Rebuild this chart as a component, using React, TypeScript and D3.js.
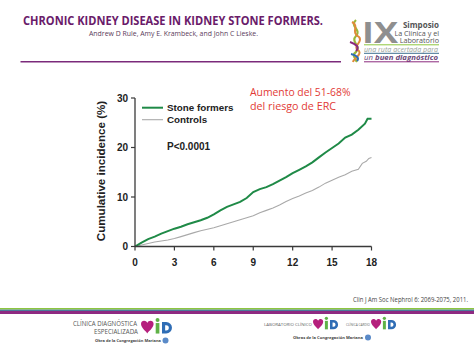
import React from 'react';
import * as d3 from 'd3';

const stoneTimes = [0, 0.5, 1, 1.5, 2, 2.5, 3, 3.5, 4, 4.5, 5, 5.5, 6, 6.5, 7, 7.5, 8, 8.5, 9, 9.5, 10, 10.5, 11, 11.5, 12, 12.5, 13, 13.5, 14, 14.5, 15, 15.5, 16, 16.5, 17, 17.5, 17.7, 18];
const stoneFormers = [0, 0.8, 1.5, 2.0, 2.6, 3.1, 3.6, 4.0, 4.5, 4.9, 5.3, 5.8, 6.5, 7.3, 8.0, 8.5, 9.0, 9.8, 11.0, 11.6, 12.0, 12.6, 13.3, 14.0, 14.8, 15.5, 16.2, 17.0, 18.0, 19.0, 19.9, 20.8, 22.0, 22.6, 23.6, 24.8, 25.8, 25.8];

const controlTimes = [0, 0.5, 1, 1.5, 2, 2.5, 3, 3.5, 4, 4.5, 5, 5.5, 6, 6.5, 7, 7.5, 8, 8.5, 9, 9.5, 10, 10.5, 11, 11.5, 12, 12.5, 13, 13.5, 14, 14.5, 15, 15.5, 16, 16.5, 17, 17.3, 17.6, 17.8, 18];
const controls = [0, 0.3, 0.6, 0.9, 1.1, 1.3, 1.6, 2.0, 2.4, 2.8, 3.2, 3.5, 3.8, 4.2, 4.6, 5.0, 5.4, 5.8, 6.2, 6.8, 7.3, 7.8, 8.4, 9.1, 9.7, 10.2, 10.8, 11.3, 12.0, 12.8, 13.4, 14.0, 14.5, 15.2, 15.6, 16.8, 17.2, 17.8, 18.0];

const xTicks = [0, 3, 6, 9, 12, 15, 18];
const yTicks = [0, 10, 20, 30];

const seriesNames = ['Stone formers', 'Controls'];

export default function App() {
  const x = d3.scaleLinear().domain([0, 18]).range([135, 371.5]);
  const y = d3.scaleLinear().domain([0, 30]).range([246.5, 98]);

  const line = d3
    .line<[number, number]>()
    .x((d) => x(d[0]))
    .y((d) => y(d[1]))
    .curve(d3.curveLinear);

  const stonePath = line(stoneTimes.map((t, i) => [t, stoneFormers[i]]) as [number, number][]) || '';
  const ctrlPath = line(controlTimes.map((t, i) => [t, controls[i]]) as [number, number][]) || '';

  const arial = 'Liberation Sans, Arial, sans-serif';
  const calibri = 'Open Sans, sans-serif';
  const green = '#1f8a47';
  const gray = '#a9a9a9';
  const axisCol = '#3a3a3a';
  const purple = '#6a1b6a';

  const vid = (px: number, py: number, s: number) => (
    <g transform={`translate(${px},${py}) scale(${s})`}>
      <path d="M0,2 C0,-2 5,-2 6,1 C7,-2 12,-2 12,2 C12,6 6,10 6,11 C6,10 0,6 0,2 Z" fill="#b5207d" />
      <rect x={14} y={1} width={3.5} height={10} fill="#5fb246" />
      <circle cx={15.75} cy={-2} r={1.9} fill="#5fb246" />
      <path d="M20,0 h4 a5.5,5.5 0 0 1 0,11 h-4 Z M23,3 v5 h1 a2.5,2.5 0 0 0 0,-5 Z" fill="#2f6db5" fillRule="evenodd" />
    </g>
  );

  return (
    <svg
      width={474}
      height={355}
      style={{ position: 'absolute', left: 0, top: 0, background: '#fff' }}
      xmlns="http://www.w3.org/2000/svg"
    >
      <rect x={0} y={0} width={474} height={355} fill="#fff" />

      {/* Header */}
      <text x={23} y={24.5} fontFamily={calibri} fontWeight={700} fontSize={12.5} fill={purple} textLength={300} lengthAdjust="spacingAndGlyphs">
        CHRONIC KIDNEY DISEASE IN KIDNEY STONE FORMERS.
      </text>
      <text x={89} y={36} fontFamily={calibri} fontSize={7.6} fill="#5a3a5a" textLength={169} lengthAdjust="spacingAndGlyphs">
        Andrew D Rule, Amy E. Krambeck, and John C Lieske.
      </text>
      <line x1={20.5} x2={341} y1={61.7} y2={61.7} stroke="#7b2a7b" strokeWidth={1.6} />

      {/* Symposium logo */}
      <g>
        <path d="M356,20 C349,26 362,30 356,36 C350,42 362,46 356,52 C350,56 358,59 356,62" stroke="#9ab83a" strokeWidth={2.2} fill="none" />
        <path d="M352,22 C360,26 350,32 359,37 C364,42 351,46 359,51 C362,55 354,58 353,62" stroke="#e08a3a" strokeWidth={2} fill="none" />
        <path d="M350,42 C356,44 360,47 356,51" stroke="#8a2a7e" strokeWidth={2} fill="none" />
        <path d="M351,54 C356,55 360,58 357,61" stroke="#2f6db5" strokeWidth={2} fill="none" />
        <text x={362} y={43.3} fontFamily={calibri} fontWeight={700} fontSize={29} fill="#8f8f8f" textLength={36} lengthAdjust="spacingAndGlyphs">
          IX
        </text>
        <text x={439} y={27.8} textAnchor="end" fontFamily={calibri} fontWeight={700} fontSize={8} fill="#555">Simposio</text>
        <text x={439} y={36.2} textAnchor="end" fontFamily={calibri} fontSize={7.2} fill="#555">La Clínica y el</text>
        <text x={439} y={43.2} textAnchor="end" fontFamily={calibri} fontSize={7.2} fill="#555">Laboratorio</text>
        <line x1={364} x2={439} y1={44.8} y2={44.8} stroke="#8dc63f" strokeWidth={1} />
        <text x={364} y={51.5} fontFamily={calibri} fontStyle="italic" fontSize={6.4} fill="#9aa39a" textLength={74} lengthAdjust="spacingAndGlyphs">una ruta acertada para</text>
        <line x1={364} x2={439} y1={53.3} y2={53.3} stroke="#3c6e8f" strokeWidth={1} />
        <text x={364} y={60} fontFamily={calibri} fontStyle="italic" fontSize={6.8} fill="#6a4a7a" textLength={74} lengthAdjust="spacingAndGlyphs">
          un <tspan fontWeight={700}>buen diagnóstico</tspan>
        </text>
        <line x1={364} x2={439} y1={61.8} y2={61.8} stroke="#8a2a7e" strokeWidth={1} />
      </g>

      {/* Chart */}
      <g>
        <path d={ctrlPath} fill="none" stroke={gray} strokeWidth={1.1} />
        <path d={stonePath} fill="none" stroke={green} strokeWidth={2} />

        {/* y axis */}
        <line x1={x(0)} x2={x(0)} y1={y(0)} y2={y(30)} stroke={axisCol} strokeWidth={1.3} />
        {yTicks.map((t) => (
          <g key={'y' + t}>
            <line x1={x(0) - 4} x2={x(0)} y1={y(t)} y2={y(t)} stroke={axisCol} strokeWidth={1.2} />
            <text x={x(0) - 7} y={y(t)} dy="0.35em" textAnchor="end" fontFamily={arial} fontWeight={700} fontSize={10} fill="#222">
              {t}
            </text>
          </g>
        ))}
        {/* x axis */}
        <line x1={x(0)} x2={x(18)} y1={y(0)} y2={y(0)} stroke={axisCol} strokeWidth={1.3} />
        {xTicks.map((t) => (
          <g key={'x' + t}>
            <line x1={x(t)} x2={x(t)} y1={y(0)} y2={y(0) + 4} stroke={axisCol} strokeWidth={1.2} />
            <text x={x(t)} y={265.5} textAnchor="middle" fontFamily={arial} fontWeight={700} fontSize={10} fill="#222">
              {t}
            </text>
          </g>
        ))}
        <text
          transform="translate(104.5,171) rotate(-90)"
          textAnchor="middle"
          fontFamily={arial}
          fontWeight={700}
          fontSize={11.6}
          fill="#222"
        >
          Cumulative incidence (%)
        </text>

        {/* legend */}
        <line x1={142} x2={163} y1={107.7} y2={107.7} stroke={green} strokeWidth={2} />
        <text x={167} y={111.2} fontFamily={arial} fontWeight={700} fontSize={9.8} fill="#222">{seriesNames[0]}</text>
        <line x1={142} x2={163} y1={119.7} y2={119.7} stroke={gray} strokeWidth={1.1} />
        <text x={167} y={123.2} fontFamily={arial} fontWeight={700} fontSize={9.8} fill="#222">{seriesNames[1]}</text>
        <text x={167} y={150.3} fontFamily={arial} fontWeight={700} fontSize={10} fill="#222">P&lt;0.0001</text>

        <text x={250} y={96} fontFamily={calibri} fontSize={11.5} fill="#e23a35" textLength={100.5} lengthAdjust="spacingAndGlyphs">
          Aumento del 51-68%
        </text>
        <text x={250} y={109.5} fontFamily={calibri} fontSize={11.5} fill="#e23a35" textLength={86} lengthAdjust="spacingAndGlyphs">
          del riesgo de ERC
        </text>
      </g>

      {/* Footer */}
      <text x={353} y={301.5} fontFamily={calibri} fontSize={6.6} fill="#444" textLength={115} lengthAdjust="spacingAndGlyphs">
        Clin J Am Soc Nephrol 6: 2069-2075,  2011.
      </text>
      <rect x={0} y={308} width={474} height={1.6} fill="#8dc63f" />
      <rect x={0} y={309.6} width={474} height={1.4} fill="#4a7a9a" />
      <rect x={0} y={311} width={474} height={3} fill="#8e2a82" />

      <text x={73} y={326} fontFamily={calibri} fontSize={6.6} fill="#555" textLength={64} lengthAdjust="spacingAndGlyphs">CLÍNICA DIAGNÓSTICA</text>
      <text x={138} y={333.5} textAnchor="end" fontFamily={calibri} fontSize={6.6} fill="#555" textLength={44} lengthAdjust="spacingAndGlyphs">ESPECIALIZADA</text>
      {vid(141, 322, 1.05)}
      <text x={95} y={342} fontFamily={calibri} fontWeight={700} fontSize={3.6} fill="#444" textLength={66} lengthAdjust="spacingAndGlyphs">Obra de la Congregación Mariana</text>
      <circle cx={165.5} cy={340.5} r={3} fill="#5a8ac8" />

      <text x={264} y={326} fontFamily={calibri} fontSize={4.2} fill="#666" textLength={48} lengthAdjust="spacingAndGlyphs">LABORATORIO CLÍNICO</text>
      {vid(313, 320, 0.85)}
      <text x={346} y={326} fontFamily={calibri} fontSize={4.2} fill="#666" textLength={24} lengthAdjust="spacingAndGlyphs">CLÍNICA CARDIO</text>
      {vid(371, 320, 0.85)}
      <text x={293} y={338.5} fontFamily={calibri} fontWeight={700} fontSize={3.8} fill="#444" textLength={70} lengthAdjust="spacingAndGlyphs">Obras de la Congregación Mariana</text>
      <circle cx={368} cy={337.5} r={3} fill="#5a8ac8" />
    </svg>
  );
}
